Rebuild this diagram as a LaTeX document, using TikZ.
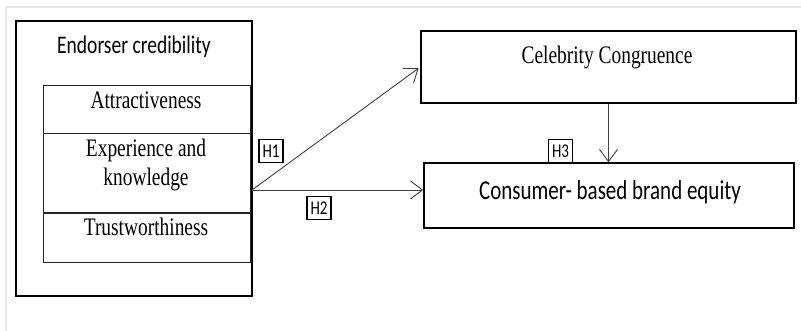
\documentclass[tikz,border=0pt]{standalone}
\usepackage{fontspec}
\setmainfont{Liberation Serif}
\newfontfamily\calibri{Carlito}
\usetikzlibrary{positioning,arrows.meta}
\definecolor{framegray}{HTML}{E6E4F0}
\definecolor{linegray}{HTML}{404040}
\newcommand{\tall}[1]{\scalebox{1}[1.3]{#1}}
\tikzset{
  box/.style={draw=black, line width=1.6pt, inner sep=0pt},
  row/.style={draw=black!85, line width=0.9pt, inner sep=0pt, minimum width=207pt},
  hyp/.style={draw=black, line width=1.2pt, inner sep=0pt, minimum width=24pt, minimum height=23pt, font=\calibri\fontsize{15}{15}\selectfont},
  arr/.style={draw=linegray, line width=0.9pt, -{Straight Barb[length=12pt,width=18pt,line width=0.9pt]}},
  serif/.style={font=\fontsize{19.4}{29}\selectfont, align=center},
}

\begin{document}
\begin{tikzpicture}[x=1pt,y=-1pt]
\useasboundingbox (0,0) rectangle (801,331);
\draw[framegray, line width=1.5pt] (6,331) -- (6,7) -- (801,7);

\node[box, minimum width=236pt, minimum height=275pt] (cred) at (134,158.5) {};
\node[font=\calibri\fontsize{19.5}{20}\selectfont] (credtxt) at (134,47) {\tall{Endorser credibility}};
\node[row, minimum height=48pt] (attr) at (146.5,109) {};
\node[row, minimum height=79pt, below=0pt of attr] (exp) {};
\node[row, minimum height=49pt, below=0pt of exp] (trust) {};
\node[serif] (attrtxt) at (146,100) {\tall{Attractiveness}};
\node[serif] (exptxt) at (146,165) {\tall{Experience and}\\\tall{knowledge}};
\node[serif] (trusttxt) at (146,227) {\tall{Trustworthiness}};

\node[box, minimum width=375pt, minimum height=72pt] (celeb) at (608.5,67) {};
\node[serif] (celebtxt) at (607,57) {\tall{Celebrity Congruence}};
\node[box, minimum width=370pt, minimum height=65pt] (cbbe) at (609,195.5) {};
\node[font=\calibri\fontsize{21}{22}\selectfont] (cbbetxt) at (610,192) {\tall{Consumer- based brand equity}};

\coordinate (src) at (252,190);
\draw[arr, shorten >=2pt] (src) -- (celeb.west);
\draw[arr] (src) -- (src -| cbbe.west);
\draw[arr] (celeb.south) -- (celeb.south |- cbbe.north);

\node[hyp] (h1) at (271,151) {\tall{H1}};
\node[hyp] (h2) at (319,208) {\tall{H2}};
\node[hyp, anchor=south] (h3) at (560.5,163) {\tall{H3}};
\end{tikzpicture}
\end{document}
